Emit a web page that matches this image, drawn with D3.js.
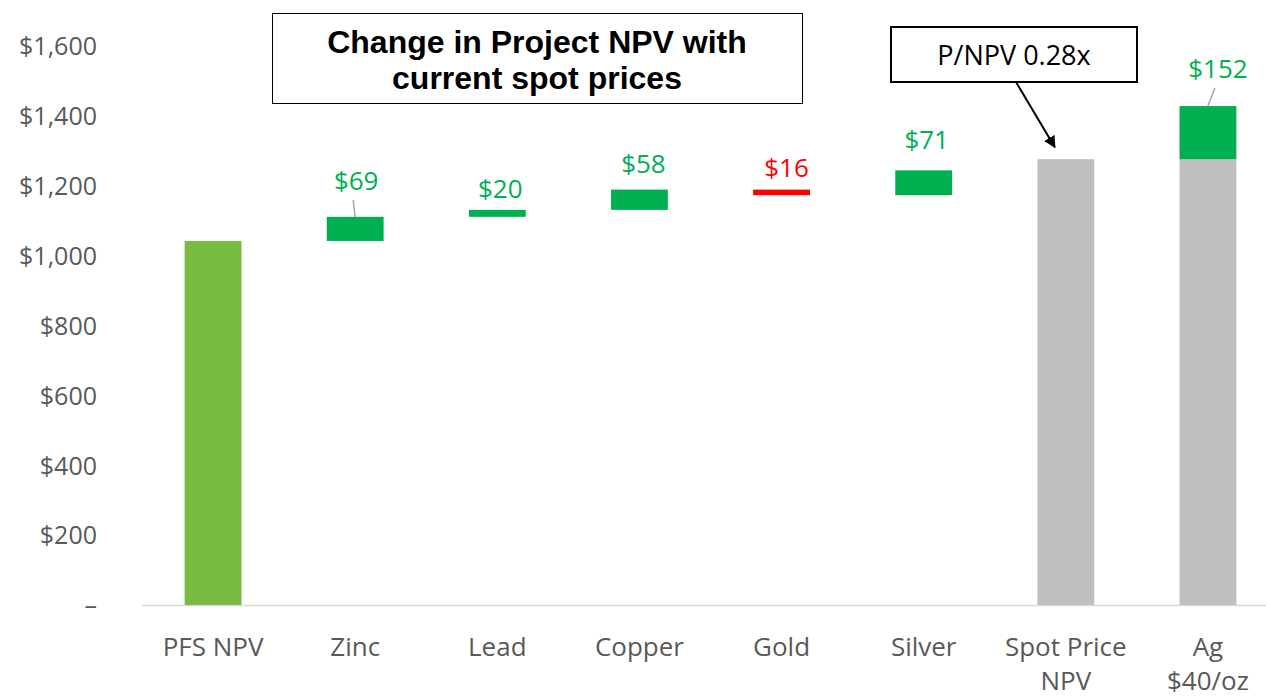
<!DOCTYPE html>
<html>
<head>
<meta charset="UTF-8">
<title>Change in Project NPV</title>
<script src="https://d3js.org/d3.v7.min.js"></script>
<style>
  body { margin:0; background:#fff; }
  svg text { font-family: "Open Sans", "Noto Sans", sans-serif; }
</style>
</head>
<body>
<div id="chart"></div>
<script>
// data
const categories = ["PFS NPV", "Zinc", "Lead", "Copper", "Gold", "Silver", "Spot Price NPV", "Ag $40/oz"];
const categoryLines = [["PFS NPV"], ["Zinc"], ["Lead"], ["Copper"], ["Gold"], ["Silver"], ["Spot Price", "NPV"], ["Ag", "$40/oz"]];
const pfsNPV = 1042;
const metalSteps = ["Zinc", "Lead", "Copper", "Gold", "Silver"];
const metalDeltas = [69, 20, 58, -16, 71];
const spotNPV = 1276;
const agUplift = 152;
const yTicks = [0, 200, 400, 600, 800, 1000, 1200, 1400, 1600];
const title = ["Change in Project NPV with", "current spot prices"];
const calloutText = "P/NPV 0.28x";

const W = 1266, H = 696;
const svg = d3.select('#chart').append('svg').attr('width', W).attr('height', H);

const x = d3.scaleBand().domain(categories).range([142, 1279]).paddingInner(0.6).paddingOuter(0.3);
const y = d3.scaleLinear().domain([0, 1600]).range([605, 46]);

const C = { pfs:'#77bb41', up:'#00b050', down:'#ff0000', total:'#bfbfbf', text:'#595959' };

// build waterfall segments
const segs = [];
segs.push({ cat:'PFS NPV', y0:0, y1:pfsNPV, color:C.pfs });
let run = pfsNPV;
metalSteps.forEach((m, i) => {
  const d = metalDeltas[i];
  segs.push({ cat:m, y0:Math.min(run, run + d), y1:Math.max(run, run + d), color: d >= 0 ? C.up : C.down, delta:d });
  run += d;
});
segs.push({ cat:'Spot Price NPV', y0:0, y1:spotNPV, color:C.total });
segs.push({ cat:'Ag $40/oz', y0:0, y1:spotNPV, color:C.total });
segs.push({ cat:'Ag $40/oz', y0:spotNPV, y1:spotNPV + agUplift, color:C.up, delta:agUplift });

// axis line
svg.append('line').attr('x1', 142).attr('x2', 1268).attr('y1', y(0) + 0.5).attr('y2', y(0) + 0.5)
  .attr('stroke', '#d9d9d9').attr('stroke-width', 1.5);

// y axis labels
const yAxis = d3.axisLeft(y).tickValues(yTicks).tickSize(0).tickPadding(0)
  .tickFormat(v => v === 0 ? '–' : '$' + d3.format(',')(v));
const gy = svg.append('g').attr('transform', 'translate(97,0)').call(yAxis);
gy.select('.domain').remove();
gy.selectAll('text').attr('fill', C.text).style('font-size', '25px').attr('dy', '0.35em');

// x axis labels
const xAxis = d3.axisBottom(x).tickSize(0).tickFormat('');
const gx = svg.append('g').attr('transform', `translate(0,${y(0)})`).call(xAxis);
gx.select('.domain').remove();
gx.selectAll('.tick').each(function(d, i){
  const t = d3.select(this).append('text').attr('fill', C.text).attr('text-anchor', 'middle')
    .style('font-size', '26px').attr('y', 51);
  categoryLines[i].forEach((ln, j) => {
    t.append('tspan').attr('x', 0).attr('dy', j === 0 ? 0 : 34).text(ln);
  });
});

// bars
svg.append('g').selectAll('rect').data(segs).join('rect')
  .attr('x', d => x(d.cat))
  .attr('width', x.bandwidth())
  .attr('y', d => y(d.y1))
  .attr('height', d => y(d.y0) - y(d.y1))
  .attr('fill', d => d.color);

// value labels (nudges are layout only)
const labelNudge = { 'Zinc':[1, 36, true], 'Lead':[3, 21], 'Copper':[4, 26], 'Gold':[5, 22], 'Silver':[3, 30], 'Ag $40/oz':[10, 37, true] };
const labelled = segs.filter(d => d.delta !== undefined);
const lg = svg.append('g');
labelled.forEach(d => {
  const n = labelNudge[d.cat];
  const cx = x(d.cat) + x.bandwidth() / 2;
  const top = y(d.y1);
  lg.append('text').attr('x', cx + n[0]).attr('y', top - n[1]).attr('dy', '0.35em')
    .attr('text-anchor', 'middle').style('font-size', '26px')
    .attr('fill', d.delta >= 0 ? C.up : C.down)
    .text('$' + Math.abs(d.delta));
  if (n[2]) {
    lg.append('line').attr('x1', cx + n[0] - 3).attr('y1', top - n[1] + 19)
      .attr('x2', cx).attr('y2', top)
      .attr('stroke', '#a6a6a6').attr('stroke-width', 1.5);
  }
});

// title box
svg.append('rect').attr('x', 272.5).attr('y', 13.5).attr('width', 530).attr('height', 90)
  .attr('fill', '#fff').attr('stroke', '#000').attr('stroke-width', 1);
const tt = svg.append('text').attr('text-anchor', 'middle').attr('fill', '#000')
  .style('font-family', '"Liberation Sans", Arial, sans-serif').style('font-weight', 'bold').style('font-size', '32px');
title.forEach((ln, i) => {
  tt.append('tspan').attr('x', 537).attr('y', 53 + i * 36).text(ln);
});

// callout box + arrow
svg.append('defs').append('marker').attr('id', 'arrow').attr('viewBox', '0 0 10 10')
  .attr('refX', 9).attr('refY', 5).attr('markerWidth', 6).attr('markerHeight', 6)
  .attr('orient', 'auto').attr('markerUnits', 'strokeWidth')
  .append('path').attr('d', 'M0,0 L10,5 L0,10 z').attr('fill', '#000');
const spotTop = y(spotNPV);
const spotCx = x('Spot Price NPV') + x.bandwidth() / 2;
svg.append('line').attr('x1', 1016).attr('y1', 82).attr('x2', spotCx - 11).attr('y2', spotTop - 12)
  .attr('stroke', '#000').attr('stroke-width', 2).attr('marker-end', 'url(#arrow)');
svg.append('rect').attr('x', 891).attr('y', 27).attr('width', 246).attr('height', 55)
  .attr('fill', '#fff').attr('stroke', '#000').attr('stroke-width', 2);
svg.append('text').attr('x', 1014).attr('y', 56).attr('dy', '0.35em').attr('text-anchor', 'middle')
  .attr('fill', '#000').style('font-size', '27px').text(calloutText);
</script>
</body>
</html>
